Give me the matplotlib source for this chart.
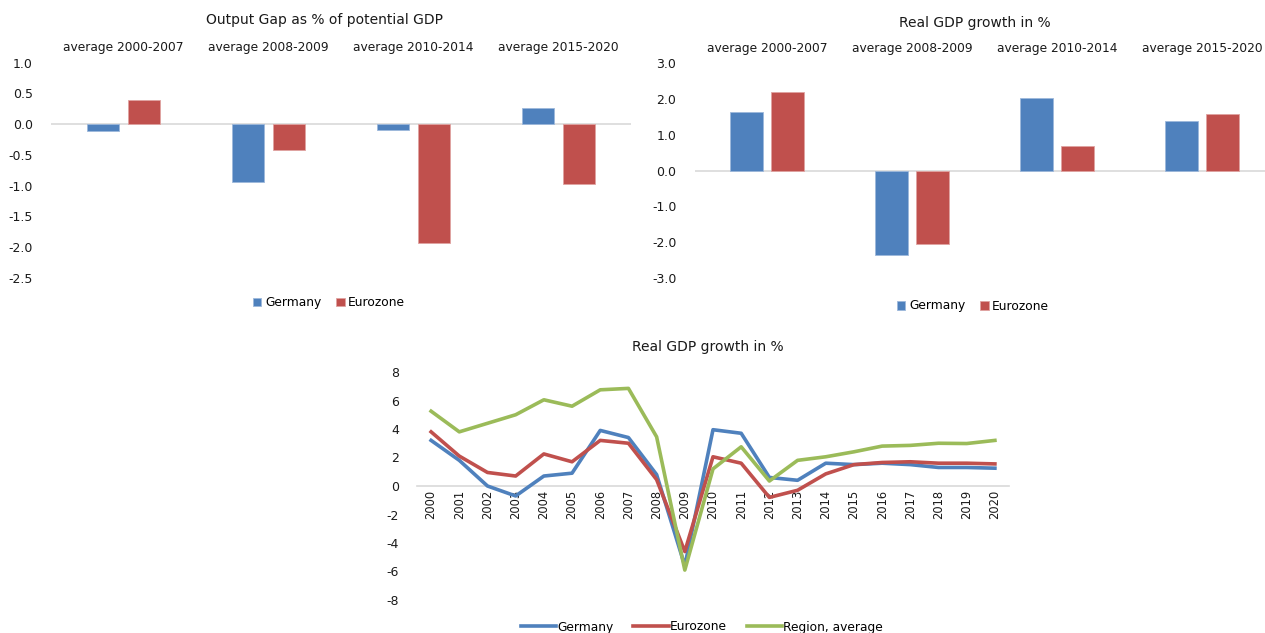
import matplotlib.pyplot as plt
import numpy as np

periods = ['average 2000-2007', 'average 2008-2009', 'average 2010-2014', 'average 2015-2020']
gap_germany = [-0.12, -0.94, -0.10, 0.27]
gap_eurozone = [0.40, -0.42, -1.93, -0.97]
growth_germany = [1.62, -2.37, 2.03, 1.39]
growth_eurozone = [2.19, -2.05, 0.67, 1.58]

years = [str(y) for y in range(2000, 2021)]
line_germany = [3.2, 1.8, 0.0, -0.7, 0.7, 0.9, 3.9, 3.4, 0.8, -5.6, 3.95, 3.7,
                0.6, 0.4, 1.6, 1.5, 1.6, 1.5, 1.3, 1.3, 1.25]
line_eurozone = [3.8, 2.1, 0.95, 0.7, 2.25, 1.7, 3.2, 3.0, 0.45, -4.6, 2.05, 1.6,
                 -0.8, -0.3, 0.85, 1.5, 1.65, 1.7, 1.6, 1.6, 1.55]
line_region = [5.25, 3.8, 4.4, 5.0, 6.05, 5.6, 6.75, 6.85, 3.45, -5.9, 1.2, 2.75,
               0.35, 1.8, 2.05, 2.4, 2.8, 2.85, 3.0, 2.98, 3.2]

BLUE = '#4F81BD'
RED = '#C0504D'
GREEN = '#9BBB59'
GRID = '#D9D9D9'
TXT = '#1a1a1a'

plt.rcParams['font.family'] = 'DejaVu Sans'

fig = plt.figure(figsize=(12.65, 6.33), dpi=100)


def bar_panel(rect, ger, euro, ylim, ticks, fmt):
    ax = fig.add_axes(rect)
    x = np.arange(len(periods))
    w = 0.224
    ax.bar(x - 0.14, ger, w, color=BLUE, edgecolor='#9db8db', linewidth=0.6, label='Germany', zorder=3)
    ax.bar(x + 0.14, euro, w, color=RED, edgecolor='#e0a3a1', linewidth=0.6, label='Eurozone', zorder=3)
    ax.axhline(0, color=GRID, lw=1.2, zorder=2)
    ax.set_xlim(-0.5, len(periods) - 0.5)
    ax.set_ylim(*ylim)
    ax.set_yticks(ticks)
    ax.set_yticklabels([fmt.format(t) for t in ticks], fontsize=9, color=TXT)
    ax.xaxis.tick_top()
    ax.set_xticks(x)
    ax.set_xticklabels(periods, fontsize=8.8, color=TXT)
    ax.tick_params(axis='x', length=0, pad=6)
    ax.tick_params(axis='y', length=0, pad=13)
    for s in ax.spines.values():
        s.set_visible(False)
    return ax


ax1 = bar_panel([51 / 1265, 1 - 277.7 / 633, 580 / 1265, 215 / 633],
                gap_germany, gap_eurozone, (-2.5, 1.0),
                [1.0, 0.5, 0.0, -0.5, -1.0, -1.5, -2.0, -2.5], '{:.1f}')
fig.text(325 / 1265, 1 - 20 / 633, 'Output Gap as % of potential GDP',
         ha='center', va='center', fontsize=10, color=TXT)
ax1.legend(loc='center', bbox_to_anchor=(329 / 1265, 1 - 303 / 633),
           bbox_transform=fig.transFigure, ncol=2, frameon=False, fontsize=8.8,
           handlelength=0.7, handleheight=0.7, handletextpad=0.3, columnspacing=1.2)

ax2 = bar_panel([694.5 / 1265, 1 - 278 / 633, 580 / 1265, 215 / 633],
                growth_germany, growth_eurozone, (-3.0, 3.0),
                [3.0, 2.0, 1.0, 0.0, -1.0, -2.0, -3.0], '{:.1f}')
fig.text(975 / 1265, 1 - 23 / 633, 'Real GDP growth in %',
         ha='center', va='center', fontsize=10, color=TXT)
ax2.legend(loc='center', bbox_to_anchor=(973 / 1265, 1 - 306 / 633),
           bbox_transform=fig.transFigure, ncol=2, frameon=False, fontsize=8.8,
           handlelength=0.7, handleheight=0.7, handletextpad=0.3, columnspacing=1.2)

# yearly growth lines
ax3 = fig.add_axes([417 / 1265, 1 - 600 / 633, 592 / 1265, 228 / 633])
for s in ['top', 'right', 'left']:
    ax3.spines[s].set_visible(False)
ax3.spines['bottom'].set_position(('data', 0))
ax3.spines['bottom'].set_color(GRID)
ax3.spines['bottom'].set_linewidth(1.2)
xi = np.arange(len(years))
ax3.plot(xi, line_germany, color=BLUE, lw=2.6, label='Germany', zorder=3)
ax3.plot(xi, line_eurozone, color=RED, lw=2.6, label='Eurozone', zorder=3)
ax3.plot(xi, line_region, color=GREEN, lw=2.6, label='Region, average', zorder=4)
ax3.set_xlim(-0.5, len(years) - 0.5)
ax3.set_ylim(-8, 8)
ax3.set_yticks(range(-8, 9, 2))
ax3.set_yticklabels([str(t) for t in range(-8, 9, 2)], fontsize=9, color=TXT)
ax3.set_xticks(xi)
ax3.set_xticklabels(years, rotation=90, fontsize=8.3, color=TXT)
ax3.tick_params(axis='x', length=0, pad=3)
ax3.tick_params(axis='y', length=0, pad=13)
fig.text(708 / 1265, 1 - 347 / 633, 'Real GDP growth in %',
         ha='center', va='center', fontsize=10, color=TXT)
ax3.legend(loc='center', bbox_to_anchor=(702 / 1265, 1 - 627 / 633),
           bbox_transform=fig.transFigure, ncol=3, frameon=False, fontsize=8.8,
           handlelength=2.9, handletextpad=0.1, columnspacing=1.6)

fig.savefig('out.png', dpi=100)
